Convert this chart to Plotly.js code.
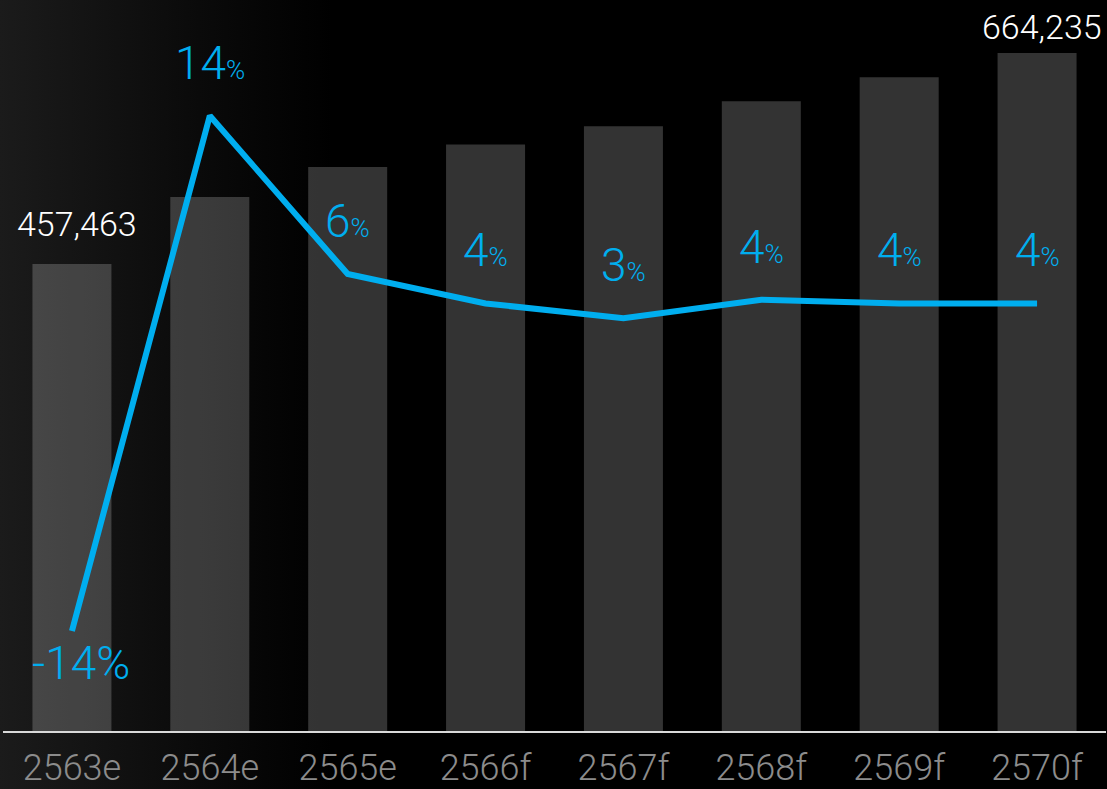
<!DOCTYPE html>
<html>
<head>
<meta charset="utf-8">
<script src="https://cdn.plot.ly/plotly-3.0.1.min.js"></script>
<style>
  html, body { margin: 0; padding: 0; }
  body { width: 1107px; height: 789px; background: linear-gradient(90deg, #1b1b1b 0%, #0a0a0a 18%, #000000 30%, #000000 100%); overflow: hidden; }
  #chart { width: 1107px; height: 789px; }
</style>
</head>
<body>
<div id="chart"></div>
<script>
const categories = ['2563e', '2564e', '2565e', '2566f', '2567f', '2568f', '2569f', '2570f'];
const marketValues = [457463, 523000, 552500, 574500, 592500, 617000, 640500, 664235];
const growthValues = [-14.0, 14.0, 5.4, 3.8, 3.0, 4.0, 3.8, 3.8];
const growthLabels = ['-14', '14', '6', '4', '3', '4', '4', '4'];
const valueLabelIdx = [0, 7];

const FONT = 'Roboto, Lato, sans-serif';
const BLUE = '#00aeef';

const bars = {
  type: 'bar', x: categories, y: marketValues,
  marker: { color: 'rgba(255,255,255,0.2)' },
  hoverinfo: 'skip', yaxis: 'y'
};
const line = {
  type: 'scatter', mode: 'lines', x: categories, y: growthValues,
  line: { color: BLUE, width: 6 }, yaxis: 'y2', hoverinfo: 'skip'
};

const annotations = [];
growthValues.forEach((v, i) => {
  const neg = v < 0;
  annotations.push({
    x: categories[i], y: v, xref: 'x', yref: 'y2', showarrow: false,
    text: neg ? growthLabels[i] + '%' : growthLabels[i] + '<span style="font-size:26px">%</span>',
    font: { family: FONT, size: 46, color: BLUE, weight: 300 },
    yshift: neg ? -32 : 53, xshift: neg ? 9 : 0
  });
});
valueLabelIdx.forEach((i) => {
  annotations.push({
    x: categories[i], y: marketValues[i], xref: 'x', yref: 'y', showarrow: false,
    text: marketValues[i].toLocaleString('en-US'),
    font: { family: FONT, size: 34, color: '#ffffff', weight: 300 },
    yshift: i === 0 ? 40 : 26, xshift: 5
  });
});

const layout = {
  width: 1107, height: 789,
  paper_bgcolor: 'rgba(0,0,0,0)', plot_bgcolor: 'rgba(0,0,0,0)',
  margin: { l: 3, r: 1, t: 0, b: 58, autoexpand: false },
  showlegend: false,
  bargap: 0.427,
  xaxis: {
    automargin: false,
    showline: true, linecolor: '#d9d9d9', linewidth: 2,
    showgrid: false, zeroline: false,
    ticks: 'outside', ticklen: 4, tickcolor: 'rgba(0,0,0,0)',
    tickfont: { family: FONT, size: 36, color: '#8c8c8c', weight: 300 }
  },
  yaxis: { automargin: false, range: [0, 716100], visible: false, showgrid: false, zeroline: false },
  yaxis2: { automargin: false, range: [-19.43, 20.29], overlaying: 'y', visible: false, showgrid: false, zeroline: false },
  annotations: annotations
};

Plotly.newPlot('chart', [bars, line], layout, { displayModeBar: false, staticPlot: true });
</script>
</body>
</html>
